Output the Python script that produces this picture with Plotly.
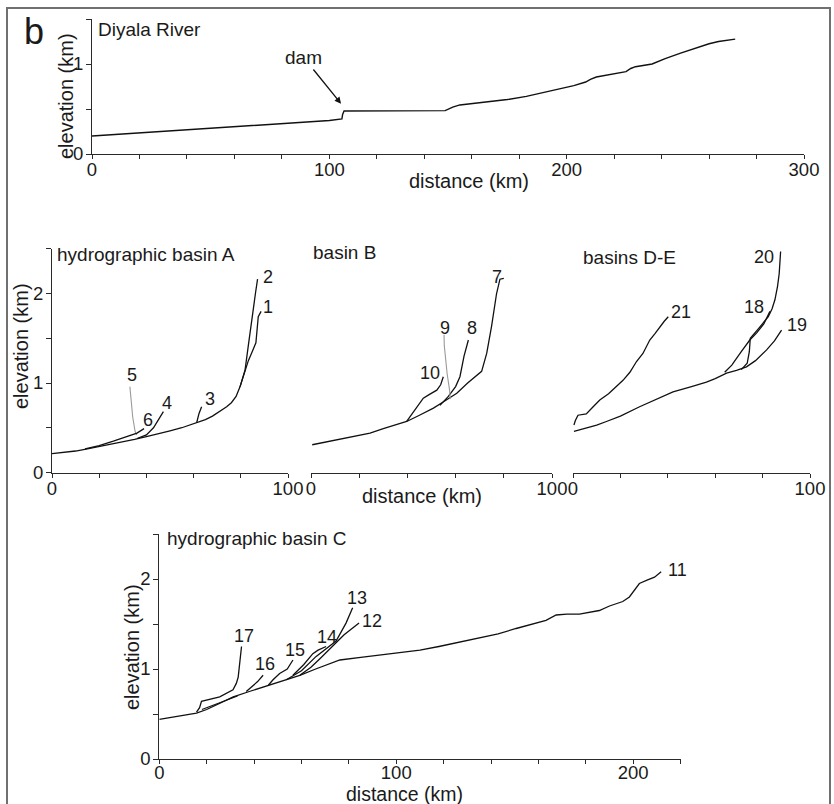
import plotly.graph_objects as go

W, H = 834, 804

# ---------------- data (distance km, elevation km) ----------------
diyala_x = [0, 20, 40, 60, 80, 100, 105.3, 105.6, 106.2, 120, 135, 148.8, 152, 155, 165, 175, 183,
            190, 197, 203, 208, 210, 212.5, 218, 225, 227, 229, 236, 241.5, 248, 255.6, 260, 264, 268, 271]
diyala_y = [0.20, 0.235, 0.27, 0.305, 0.34, 0.372, 0.39, 0.44, 0.478, 0.478, 0.478, 0.482, 0.52, 0.545,
            0.575, 0.605, 0.64, 0.68, 0.72, 0.76, 0.80, 0.83, 0.855, 0.88, 0.915, 0.95, 0.97, 1.0, 1.06,
            1.12, 1.19, 1.225, 1.25, 1.265, 1.277]

# basin A
a1_x = [0, 5, 10, 15, 20, 25, 30, 35, 40, 45, 50, 55, 61.3, 65, 68, 71, 74, 76, 78, 79.7, 81.8, 83.2,
        84.6, 86.4, 87.4, 88.6]
a1_y = [0.21, 0.225, 0.24, 0.265, 0.29, 0.315, 0.34, 0.37, 0.40, 0.43, 0.465, 0.50, 0.556, 0.59, 0.63,
        0.68, 0.735, 0.78, 0.85, 0.96, 1.145, 1.25, 1.335, 1.45, 1.74, 1.80]
a2_x = [79.7, 81.8, 83.2, 84.3, 85.3, 86.2, 87.1]
a2_y = [0.96, 1.145, 1.42, 1.65, 1.85, 2.0, 2.16]
a3_x = [61.3, 62.3, 63.4]
a3_y = [0.556, 0.66, 0.735]
a4_x = [36, 40, 43, 45.5, 47.2]
a4_y = [0.38, 0.42, 0.50, 0.60, 0.68]
a5_x = [35.9, 35.2, 34.2, 33.6, 33.0]
a5_y = [0.42, 0.46, 0.62, 0.80, 0.96]
a6_x = [14, 20, 26, 32, 36, 39]
a6_y = [0.265, 0.30, 0.35, 0.40, 0.44, 0.49]

# basin B
b7_x = [0.5, 10, 20, 24.5, 30, 35, 39.7, 45, 50.8, 55, 60.5, 65, 70.8, 72.9, 74.9, 77, 78.4, 80]
b7_y = [0.31, 0.36, 0.41, 0.44, 0.49, 0.53, 0.57, 0.64, 0.72, 0.79, 0.885, 1.0, 1.13, 1.33, 1.63,
        2.0, 2.16, 2.17]
b8_x = [53.5, 57, 60, 61.8, 63.5, 65.3]
b8_y = [0.75, 0.85, 0.96, 1.07, 1.30, 1.48]
b9_x = [57.8, 57.5, 56.5, 55.6, 55.3, 55.2]
b9_y = [0.82, 0.92, 1.1, 1.3, 1.42, 1.54]
b10_x = [39.7, 42, 44.5, 46.6, 49, 52.2, 53.8, 54.9]
b10_y = [0.57, 0.66, 0.76, 0.83, 0.87, 0.92, 0.98, 1.07]

# basins D-E
d19_x = [0.4, 5, 10, 14.1, 20, 28.1, 35, 42.2, 50, 56.3, 60, 64.8, 69, 73.2, 77, 81.7, 85, 88]
d19_y = [0.46, 0.49, 0.53, 0.57, 0.63, 0.735, 0.82, 0.90, 0.96, 1.01, 1.05, 1.11, 1.14, 1.18, 1.25,
         1.37, 1.47, 1.59]
d18_x = [64, 67, 71, 74.6, 77.5, 80.5, 83.1]
d18_y = [1.12, 1.2, 1.35, 1.48, 1.56, 1.66, 1.80]
d20_x = [71, 73.5, 74.4, 74.8, 78, 82.4, 84, 85.2, 86.3, 87, 87.6]
d20_y = [1.15, 1.22, 1.35, 1.50, 1.60, 1.74, 1.83, 1.93, 2.08, 2.22, 2.47]
d21_x = [0.4, 1, 2.1, 5.6, 8, 11.3, 15, 18, 21.1, 24, 26.8, 29.5, 32.4, 34.5, 36.6, 38.5, 40.2]
d21_y = [0.53, 0.58, 0.64, 0.655, 0.72, 0.81, 0.88, 0.95, 1.03, 1.12, 1.24, 1.33, 1.48, 1.55, 1.63,
         1.69, 1.74]

# basin C
c11_x = [0, 5, 10, 15.7, 20, 25, 31.2, 38, 45.2, 52, 59.3, 66, 72, 76.2, 85, 95, 101.4, 110, 118, 127,
         135.2, 143, 150.6, 157, 163.2, 167.5, 172, 177.3, 185.7, 190, 195.6, 198.4, 200.5, 202.6,
         206.1, 209, 211.8]
c11_y = [0.44, 0.46, 0.48, 0.51, 0.55, 0.61, 0.69, 0.75, 0.81, 0.87, 0.93, 1.0, 1.06, 1.1, 1.13, 1.16,
         1.18, 1.21, 1.25, 1.3, 1.34, 1.39, 1.45, 1.5, 1.54, 1.6, 1.61, 1.61, 1.65, 1.7, 1.75, 1.8, 1.88,
         1.95, 1.99, 2.02, 2.08]
c12_x = [59.3, 64, 68, 73.2, 78, 84.3]
c12_y = [0.93, 1.02, 1.12, 1.25, 1.38, 1.51]
c13_x = [53.6, 60, 66.2, 71, 74.6, 78.8, 81.6]
c13_y = [0.88, 0.98, 1.14, 1.24, 1.31, 1.51, 1.68]
c14_x = [56.4, 61, 64.8, 67, 70.4]
c14_y = [0.93, 1.05, 1.17, 1.21, 1.25]
c15_x = [46, 48, 50.8, 54, 56.4]
c15_y = [0.82, 0.88, 0.95, 1.0, 1.10]
c16_x = [36.7, 39, 41.5, 43.8]
c16_y = [0.75, 0.80, 0.86, 0.93]
c17_x = [15.7, 17, 17.8, 21, 25.5, 31.1, 32.5, 33.3, 34, 34.7]
c17_y = [0.52, 0.57, 0.64, 0.66, 0.69, 0.77, 0.84, 0.91, 1.05, 1.25]
c17b_x = [18, 22, 26, 30, 33]
c17b_y = [0.55, 0.59, 0.63, 0.67, 0.70]

# ---------------- styling ----------------
FONT = "Liberation Sans, Arial, Helvetica, sans-serif"
TXT = "#1a1a1a"
AX = "#2a2a2a"
BLACK = "#111111"
GRAY = "#9a9a9a"

def px(x):
    return x / W

def py(y):
    return 1 - y / H

fig = go.Figure()

# (x, y, axis suffix, color, width, label, label x-shift, label y-shift)
series = [
    (diyala_x, diyala_y, "", BLACK, 1.4, None, 0, 0),
    (a1_x, a1_y, "2", BLACK, 1.3, "1", 7, 4),
    (a2_x, a2_y, "2", BLACK, 1.3, "2", 10, 2),
    (a3_x, a3_y, "2", BLACK, 1.3, "3", 8, 8),
    (a4_x, a4_y, "2", BLACK, 1.3, "4", 4, 9),
    (a5_x, a5_y, "2", GRAY, 1.1, "5", 2, 12),
    (a6_x, a6_y, "2", BLACK, 1.3, "6", 4, 9),
    (b7_x, b7_y, "3", BLACK, 1.3, "7", -7, 1),
    (b8_x, b8_y, "3", BLACK, 1.3, "8", 4, 12),
    (b9_x, b9_y, "3", GRAY, 1.1, "9", 1, 7),
    (b10_x, b10_y, "3", BLACK, 1.3, "10", -13, 4),
    (d19_x, d19_y, "4", BLACK, 1.3, "19", 15, 5),
    (d18_x, d18_y, "4", BLACK, 1.3, "18", -16, 4),
    (d20_x, d20_y, "4", BLACK, 1.3, "20", -17, -6),
    (d21_x, d21_y, "4", BLACK, 1.3, "21", 13, 5),
    (c11_x, c11_y, "5", BLACK, 1.3, "11", 16, 2),
    (c12_x, c12_y, "5", BLACK, 1.3, "12", 13, 2),
    (c13_x, c13_y, "5", BLACK, 1.3, "13", 4, 10),
    (c14_x, c14_y, "5", BLACK, 1.3, "14", 1, 10),
    (c15_x, c15_y, "5", BLACK, 1.3, "15", 2, 10),
    (c16_x, c16_y, "5", BLACK, 1.3, "16", 2, 11),
    (c17_x, c17_y, "5", BLACK, 1.3, "17", 2, 11),
    (c17b_x, c17b_y, "5", BLACK, 1.2, None, 0, 0),
]

annotations = []
for xs, ys, ax, col, wd, lab, dx, dy in series:
    fig.add_trace(go.Scatter(x=xs, y=ys, mode="lines", xaxis="x" + ax, yaxis="y" + ax,
                             line=dict(color=col, width=wd), hoverinfo="skip", showlegend=False))
    if lab:
        annotations.append(dict(x=xs[-1], y=ys[-1], xref="x" + ax, yref="y" + ax, text=lab,
                                showarrow=False, xshift=dx, yshift=dy,
                                font=dict(family=FONT, size=18, color=TXT)))

tickfont = dict(family=FONT, size=18.5, color=TXT)

def xaxis(domain, rng, anchor, standoff=-5):
    return dict(domain=domain, range=rng, anchor=anchor, showline=True, linecolor=AX, linewidth=1.2,
                ticks="outside", ticklen=4, tickcolor=AX, tickwidth=1.2, tickmode="linear", tick0=0,
                dtick=100, showgrid=False, zeroline=False, tickfont=tickfont, ticklabelstandoff=standoff,
                automargin=False,
                minor=dict(tickmode="linear", tick0=0, dtick=20, ticks="outside", ticklen=4,
                           tickcolor=AX, tickwidth=1.2, showgrid=False))

def yaxis(domain, rng, anchor, visible=True):
    return dict(domain=domain, range=rng, anchor=anchor, visible=visible, showline=True, linecolor=AX,
                linewidth=1.2, ticks="outside", ticklen=5, tickcolor=AX, tickwidth=1.2,
                tickmode="linear", tick0=0, dtick=1, showgrid=False, zeroline=False, tickfont=tickfont,
                ticklabelstandoff=-1, automargin=False,
                minor=dict(tickmode="linear", tick0=0, dtick=0.5, ticks="outside", ticklen=5,
                           tickcolor=AX, tickwidth=1.2, showgrid=False))

midy = [py(472.5), py(472.5 - 2.5 * 89.5)]
fig.update_layout(
    xaxis=xaxis([px(92), px(804)], [0, 300], "y"),
    yaxis=yaxis([py(154), py(154 - 1.5 * 90)], [0, 1.5], "x"),
    xaxis2=xaxis([px(52), px(288)], [0, 100], "y2"),
    yaxis2=yaxis(midy, [0, 2.5], "x2"),
    xaxis3=xaxis([px(311), px(552)], [0, 100], "y3"),
    yaxis3=yaxis(midy, [0, 2.5], "x3", visible=False),
    xaxis4=xaxis([px(573), px(810)], [0, 100], "y4"),
    yaxis4=yaxis(midy, [0, 2.5], "x4", visible=False),
    xaxis5=xaxis([px(159.3), px(680.7)], [0, 220.05], "y5", standoff=-7),
    yaxis5=yaxis([py(759), py(759 - 2.5 * 90)], [0, 2.5], "x5"),
)

def ptext(text, x, y, size=19, xanchor="center", angle=0, pad=1):
    return dict(x=px(x), y=py(y), xref="paper", yref="paper", text=text, showarrow=False,
                xanchor=xanchor, yanchor="middle", textangle=angle, borderpad=pad,
                font=dict(family=FONT, size=size, color=TXT))

annotations += [
    ptext("b", 34, 31, size=36),
    ptext("Diyala River", 96, 30, xanchor="left"),
    ptext("hydrographic basin A", 55, 254, xanchor="left"),
    ptext("basin B", 311, 252, xanchor="left"),
    ptext("basins D-E", 581, 257, xanchor="left"),
    ptext("hydrographic basin C", 165, 538, xanchor="left"),
    ptext("elevation (km)", 66, 96, size=20, angle=-90),
    ptext("distance (km)", 469, 181, size=20),
    ptext("elevation (km)", 21, 346, size=20, angle=-90),
    ptext("distance (km)", 422, 496, size=20),
    ptext("elevation (km)", 132, 647, size=20, angle=-90),
    ptext("distance (km)", 404, 794, size=19.5, pad=0),
    dict(x=105.2, y=0.55, xref="x", yref="y", text="dam", showarrow=True, arrowhead=2,
         arrowsize=1, arrowwidth=1.3, arrowcolor=BLACK, ax=-38, ay=-47, standoff=1,
         font=dict(family=FONT, size=19, color=TXT)),
]

fig.update_layout(
    width=W, height=H, autosize=False,
    margin=dict(l=0, r=0, t=0, b=0, pad=0, autoexpand=False),
    paper_bgcolor="white", plot_bgcolor="white",
    showlegend=False,
    annotations=annotations,
    shapes=[dict(type="rect", xref="paper", yref="paper", x0=px(7), x1=px(830), y0=py(812), y1=py(8),
                 line=dict(color="#707070", width=2), fillcolor="rgba(0,0,0,0)", layer="below")],
)

fig.write_html("out.html", config={"displayModeBar": False},
               post_script="document.body.style.margin='0';document.body.style.overflow='hidden';")
